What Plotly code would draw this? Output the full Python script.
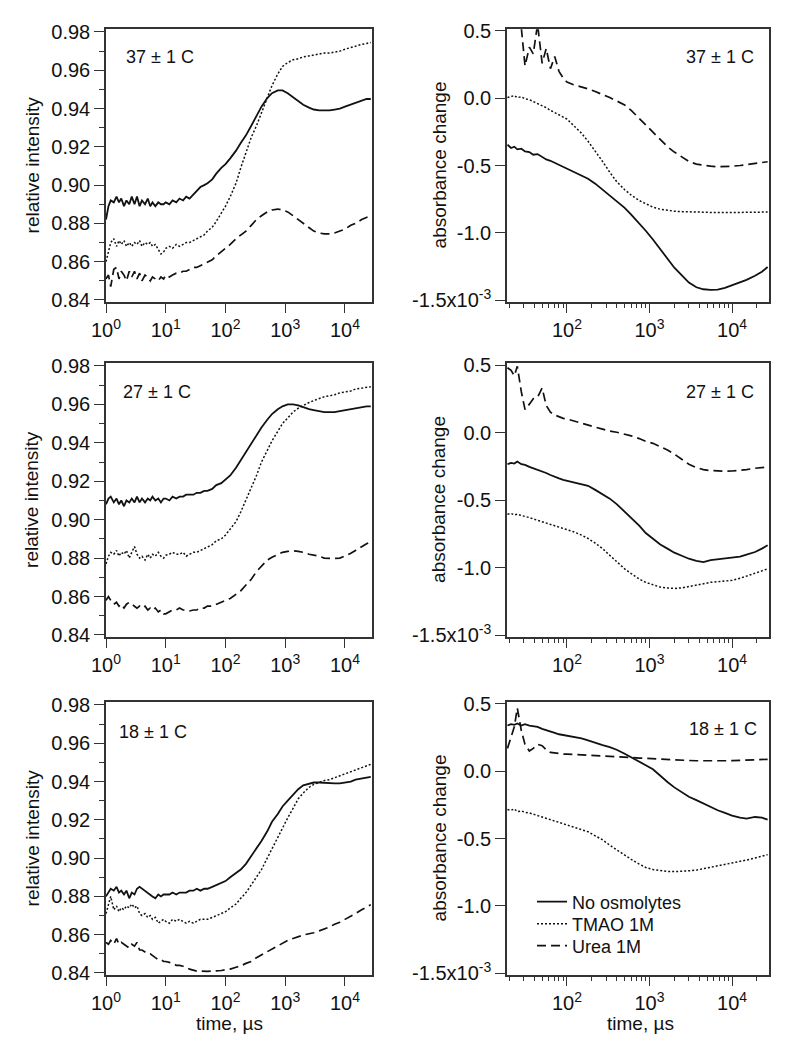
import plotly.graph_objects as go

# ---------------- data ----------------
T_FLUOR = [1.0, 1.1, 1.2, 1.35,
           1.5, 1.65, 1.8, 2.0,
           2.2, 2.45, 2.7, 3.0,
           3.3, 3.65, 4.0, 4.5,
           5.0, 5.5, 6.0, 6.7,
           7.5, 8.3, 9.2, 10,
           11.5, 13, 15, 17,
           19.5, 22, 25, 29,
           33, 38, 44, 50,
           60, 70, 85, 100,
           120, 150, 180, 220,
           270, 330, 400, 500,
           600, 750, 900, 1100,
           1350, 1650, 2000, 2500,
           3000, 3700, 4500, 5500,
           6700, 8200, 10000, 12500,
           15000, 19000, 23000, 27000]

F37_NONE = [0.882, 0.889, 0.892, 0.891,
            0.894, 0.891, 0.893, 0.889,
            0.892, 0.890, 0.894, 0.890,
            0.894, 0.889, 0.892, 0.890,
            0.893, 0.889, 0.891, 0.889,
            0.891, 0.890, 0.890, 0.891,
            0.890, 0.892, 0.891, 0.893,
            0.892, 0.894, 0.893, 0.895,
            0.897, 0.899, 0.900, 0.901,
            0.903, 0.906, 0.909, 0.911,
            0.914, 0.918, 0.922, 0.926,
            0.931, 0.936, 0.941, 0.9455,
            0.948, 0.9495, 0.9495, 0.948,
            0.946, 0.944, 0.942, 0.9405,
            0.9395, 0.939, 0.939, 0.939,
            0.9395, 0.940, 0.941, 0.942,
            0.943, 0.944, 0.945, 0.945]
F37_TMAO = [0.860, 0.866, 0.870, 0.872,
            0.868, 0.871, 0.869, 0.871,
            0.868, 0.870, 0.868, 0.870,
            0.869, 0.871, 0.868, 0.870,
            0.869, 0.870, 0.868, 0.869,
            0.866, 0.864, 0.865, 0.867,
            0.868, 0.867, 0.869, 0.868,
            0.869, 0.870, 0.870, 0.871,
            0.872, 0.873, 0.874, 0.876,
            0.878, 0.881, 0.885, 0.889,
            0.894, 0.901, 0.909, 0.917,
            0.925, 0.931, 0.938, 0.946,
            0.952, 0.958, 0.962, 0.964,
            0.9655, 0.966, 0.967, 0.9675,
            0.968, 0.9685, 0.969, 0.969,
            0.9695, 0.970, 0.971, 0.972,
            0.9725, 0.9735, 0.974, 0.9745]
F37_UREA = [0.851, 0.853, 0.847, 0.856,
            0.857, 0.851, 0.855, 0.853,
            0.850, 0.855, 0.852, 0.855,
            0.851, 0.854, 0.850, 0.853,
            0.852, 0.850, 0.852, 0.851,
            0.850, 0.852, 0.851, 0.853,
            0.852, 0.853, 0.854, 0.854,
            0.855, 0.855, 0.856, 0.857,
            0.857, 0.858, 0.859, 0.860,
            0.861, 0.863, 0.865, 0.867,
            0.869, 0.872, 0.874, 0.876,
            0.879, 0.882, 0.884, 0.886,
            0.887, 0.8875, 0.887, 0.886,
            0.884, 0.882, 0.880, 0.878,
            0.876, 0.875, 0.8745, 0.8745,
            0.875, 0.876, 0.877, 0.879,
            0.880, 0.882, 0.883, 0.884]

F27_NONE = [0.908, 0.911, 0.912, 0.909,
            0.911, 0.908, 0.910, 0.907,
            0.910, 0.909, 0.911, 0.909,
            0.912, 0.909, 0.911, 0.909,
            0.911, 0.910, 0.912, 0.910,
            0.911, 0.909, 0.911, 0.911,
            0.910, 0.912, 0.911, 0.912,
            0.912, 0.913, 0.913, 0.913,
            0.914, 0.914, 0.915, 0.915,
            0.916, 0.918, 0.919, 0.921,
            0.923, 0.927, 0.931, 0.935,
            0.940, 0.944, 0.948, 0.952,
            0.955, 0.9575, 0.959, 0.960,
            0.960, 0.9595, 0.9585, 0.9575,
            0.957, 0.9565, 0.956, 0.956,
            0.956, 0.9565, 0.957, 0.9575,
            0.958, 0.9585, 0.959, 0.959]
F27_TMAO = [0.877, 0.881, 0.883, 0.882,
            0.884, 0.881, 0.883, 0.882,
            0.884, 0.880, 0.883, 0.886,
            0.882, 0.880, 0.881, 0.879,
            0.882, 0.880, 0.882, 0.881,
            0.883, 0.881, 0.880, 0.8815,
            0.882, 0.883, 0.882, 0.882,
            0.883, 0.881, 0.882, 0.883,
            0.883, 0.884, 0.885, 0.886,
            0.887, 0.889, 0.890, 0.892,
            0.895, 0.899, 0.904, 0.910,
            0.917, 0.923, 0.930, 0.936,
            0.941, 0.946, 0.950, 0.953,
            0.956, 0.958, 0.9595, 0.961,
            0.962, 0.963, 0.964, 0.9645,
            0.965, 0.966, 0.9665, 0.967,
            0.968, 0.9685, 0.969, 0.9692]
F27_UREA = [0.858, 0.860, 0.858, 0.856,
            0.857, 0.855, 0.856, 0.854,
            0.856, 0.857, 0.856, 0.855,
            0.854, 0.855, 0.854, 0.855,
            0.853, 0.854, 0.853, 0.854,
            0.852, 0.853, 0.851, 0.851,
            0.852, 0.853, 0.853, 0.854,
            0.853, 0.853, 0.8525, 0.853,
            0.853, 0.854, 0.854, 0.855,
            0.855, 0.856, 0.857, 0.858,
            0.859, 0.861, 0.863, 0.866,
            0.869, 0.873, 0.876, 0.879,
            0.8805, 0.882, 0.883, 0.8835,
            0.8838, 0.8835, 0.883, 0.882,
            0.8815, 0.881, 0.880, 0.8798,
            0.8798, 0.880, 0.881, 0.8825,
            0.884, 0.886, 0.8875, 0.8885]

F18_NONE = [0.880, 0.882, 0.884, 0.883,
            0.885, 0.882, 0.883, 0.881,
            0.883, 0.879, 0.882, 0.881,
            0.884, 0.885, 0.884, 0.883,
            0.882, 0.881, 0.880, 0.879,
            0.881, 0.880, 0.881, 0.881,
            0.881, 0.882, 0.881, 0.882,
            0.882, 0.882, 0.883, 0.883,
            0.884, 0.883, 0.884, 0.884,
            0.885, 0.886, 0.887, 0.888,
            0.890, 0.892, 0.894, 0.897,
            0.901, 0.905, 0.909, 0.914,
            0.919, 0.923, 0.927, 0.930,
            0.933, 0.936, 0.938, 0.939,
            0.9395, 0.9395, 0.9393, 0.939,
            0.939, 0.939, 0.9395, 0.940,
            0.941, 0.9415, 0.942, 0.9425]
F18_TMAO = [0.871, 0.876, 0.880, 0.873,
            0.875, 0.872, 0.874, 0.873,
            0.875, 0.874, 0.876, 0.874,
            0.875, 0.871, 0.870, 0.871,
            0.869, 0.870, 0.868, 0.869,
            0.866, 0.867, 0.868, 0.867,
            0.866, 0.868, 0.867, 0.868,
            0.867, 0.866, 0.867, 0.866,
            0.867, 0.868, 0.868, 0.868,
            0.869, 0.870, 0.871, 0.872,
            0.874, 0.876, 0.879, 0.882,
            0.886, 0.890, 0.894, 0.900,
            0.905, 0.911, 0.916, 0.921,
            0.926, 0.931, 0.934, 0.937,
            0.9385, 0.9395, 0.9405, 0.941,
            0.942, 0.943, 0.944, 0.945,
            0.946, 0.947, 0.948, 0.949]
F18_UREA = [0.856, 0.855, 0.857, 0.855,
            0.858, 0.855, 0.856, 0.855,
            0.854, 0.853, 0.855, 0.854,
            0.856, 0.852, 0.852, 0.851,
            0.850, 0.850, 0.849, 0.848,
            0.847, 0.847, 0.846, 0.846,
            0.8455, 0.845, 0.844, 0.844,
            0.8435, 0.843, 0.842, 0.8415,
            0.841, 0.841, 0.8408, 0.8408,
            0.841, 0.841, 0.8413, 0.8417,
            0.842, 0.843, 0.8437, 0.845,
            0.846, 0.848, 0.8495, 0.851,
            0.8525, 0.854, 0.8555, 0.857,
            0.858, 0.859, 0.8598, 0.8605,
            0.861, 0.862, 0.863, 0.864,
            0.8655, 0.8665, 0.868, 0.8695,
            0.871, 0.873, 0.8745, 0.8757]

T_ABS = [19, 21, 23, 25,
         28, 31, 35, 39,
         44, 50, 56, 63,
         71, 80, 90, 100,
         120, 150, 180, 220,
         270, 330, 400, 500,
         600, 750, 900, 1100,
         1350, 1650, 2000, 2500,
         3000, 3700, 4500, 5500,
         6700, 8200, 10000, 12500,
         15000, 19000, 23000, 27000]

# absorbance change, in units of 1e-3
A37_NONE = [-0.345, -0.37, -0.36, -0.38,
            -0.375, -0.395, -0.40, -0.42,
            -0.415, -0.435, -0.455, -0.465,
            -0.48, -0.495, -0.51, -0.521,
            -0.545, -0.575, -0.598, -0.635,
            -0.68, -0.725, -0.77, -0.815,
            -0.865, -0.93, -0.985, -1.05,
            -1.12, -1.195, -1.26, -1.32,
            -1.37, -1.405, -1.42, -1.425,
            -1.422, -1.41, -1.39, -1.37,
            -1.35, -1.32, -1.29, -1.255]
A37_TMAO = [0.005, 0.01, 0.02, 0.005,
            0.01, -0.005, -0.01, -0.025,
            -0.04, -0.055, -0.07, -0.09,
            -0.105, -0.12, -0.14, -0.155,
            -0.2, -0.26, -0.32, -0.39,
            -0.47, -0.55, -0.62, -0.68,
            -0.72, -0.76, -0.785, -0.81,
            -0.825, -0.835, -0.84, -0.843,
            -0.845, -0.847, -0.848, -0.849,
            -0.85, -0.85, -0.85, -0.85,
            -0.849, -0.848, -0.847, -0.846]
A37_UREA = [None, None, None, None,
            0.52, 0.24, 0.38, 0.33,
            0.55, 0.26, 0.37, 0.22,
            0.31, 0.2, 0.15, 0.12,
            0.1, 0.085, 0.07, 0.05,
            0.03, 0.005, -0.02, -0.05,
            -0.09, -0.15, -0.2, -0.25,
            -0.31, -0.36, -0.4, -0.44,
            -0.47, -0.49, -0.5, -0.505,
            -0.51, -0.51, -0.505, -0.5,
            -0.495, -0.485, -0.478, -0.472]

A27_NONE = [-0.235, -0.225, -0.23, -0.215,
            -0.235, -0.24, -0.255, -0.265,
            -0.275, -0.29, -0.3, -0.315,
            -0.33, -0.34, -0.35, -0.357,
            -0.37, -0.38, -0.395, -0.425,
            -0.455, -0.49, -0.53, -0.585,
            -0.635, -0.69, -0.745, -0.79,
            -0.83, -0.86, -0.89, -0.915,
            -0.935, -0.95, -0.96, -0.945,
            -0.94, -0.935, -0.93, -0.92,
            -0.905, -0.885, -0.86, -0.835]
A27_TMAO = [-0.605, -0.6, -0.61, -0.605,
            -0.615, -0.62, -0.63, -0.64,
            -0.65, -0.66, -0.67, -0.68,
            -0.69, -0.7, -0.71, -0.717,
            -0.735, -0.76, -0.785, -0.82,
            -0.86, -0.91, -0.955, -1.01,
            -1.045, -1.085, -1.11, -1.13,
            -1.145, -1.152, -1.155, -1.15,
            -1.14, -1.13, -1.12, -1.11,
            -1.105, -1.1, -1.095, -1.08,
            -1.065, -1.045, -1.025, -1.01]
A27_UREA = [0.48, 0.46, 0.42, 0.49,
            0.3, 0.17, 0.21, 0.25,
            0.26, 0.33, 0.2, 0.15,
            0.13, 0.115, 0.105, 0.1,
            0.085, 0.07, 0.055, 0.04,
            0.025, 0.01, 0.002, -0.01,
            -0.025, -0.045, -0.065, -0.08,
            -0.105, -0.13, -0.16, -0.2,
            -0.235, -0.26, -0.275, -0.282,
            -0.285, -0.287, -0.285, -0.28,
            -0.275, -0.265, -0.26, -0.255]

A18_NONE = [0.34, 0.35, 0.345, 0.355,
            0.34, 0.35, 0.34, 0.335,
            0.33, 0.315, 0.305, 0.29,
            0.285, 0.275, 0.27, 0.263,
            0.255, 0.245, 0.23, 0.21,
            0.195, 0.18, 0.16, 0.13,
            0.105, 0.075, 0.045, 0.015,
            -0.035, -0.08, -0.12, -0.16,
            -0.19, -0.215, -0.24, -0.27,
            -0.29, -0.31, -0.33, -0.345,
            -0.352, -0.34, -0.345, -0.36]
A18_TMAO = [-0.285, -0.29, -0.28, -0.3,
            -0.295, -0.305, -0.31, -0.32,
            -0.33, -0.34, -0.35, -0.36,
            -0.37, -0.38, -0.39, -0.396,
            -0.41, -0.43, -0.45, -0.48,
            -0.51, -0.55, -0.585, -0.625,
            -0.655, -0.69, -0.715, -0.73,
            -0.74, -0.745, -0.746, -0.745,
            -0.74, -0.735, -0.725, -0.715,
            -0.705, -0.695, -0.683, -0.672,
            -0.66, -0.645, -0.632, -0.62]
A18_UREA = [0.17, 0.25, 0.33, 0.47,
            0.3, 0.2, 0.15, 0.17,
            0.2, 0.19, 0.16, 0.14,
            0.135, 0.13, 0.128, 0.127,
            0.125, 0.12, 0.118, 0.116,
            0.114, 0.112, 0.11, 0.106,
            0.102, 0.098, 0.095, 0.092,
            0.089, 0.087, 0.085, 0.082,
            0.08, 0.078, 0.077, 0.077,
            0.077, 0.078, 0.079, 0.081,
            0.084, 0.086, 0.088, 0.089]

SERIES_NAMES = ["No osmolytes", "TMAO 1M", "Urea 1M"]
TEMPS = ["37 ± 1 C", "27 ± 1 C", "18 ± 1 C"]

FL_TICKVALS = [1, 10, 100, 1000, 10000]
FL_TICKTEXT = ["10<sup>0</sup>", "10<sup>1</sup>", "10<sup>2</sup>", "10<sup>3</sup>", "10<sup>4</sup>"]
AB_TICKVALS = [100, 1000, 10000]
AB_TICKTEXT = ["10<sup>2</sup>", "10<sup>3</sup>", "10<sup>4</sup>"]
AB_MINOR = [20, 30, 40, 50, 60, 70, 80, 90,
            200, 300, 400, 500, 600, 700, 800, 900,
            2000, 3000, 4000, 5000, 6000, 7000, 8000, 9000, 20000]
FL_YTICKS = [0.84, 0.86, 0.88, 0.90, 0.92, 0.94, 0.96, 0.98]
FL_YTEXT = ["0.84", "0.86", "0.88", "0.90", "0.92", "0.94", "0.96", "0.98"]
AB_YTICKS = [0.5, 0.0, -0.5, -1.0, -1.5]
AB_YTEXT = ["0.5", "0.0", "-0.5", "-1.0", "-1.5x10<sup>-3</sup>"]

# ---------------- figure ----------------
# the page body adds an 8 px margin; layout positions below are page pixels
OFF = 8
W, H = 781, 1034
FONT = "Liberation Sans, Arial, sans-serif"
INK = "#111111"
AXC = "#333333"
FS = 19
FS_TICK = 20

STYLES = [dict(color=INK, width=1.8, dash="solid"),
          dict(color=INK, width=1.5, dash="2px,2px"),
          dict(color=INK, width=1.7, dash="9px,5px")]

fluor = [(F37_NONE, F37_TMAO, F37_UREA), (F27_NONE, F27_TMAO, F27_UREA), (F18_NONE, F18_TMAO, F18_UREA)]
absb = [(A37_NONE, A37_TMAO, A37_UREA), (A27_NONE, A27_TMAO, A27_UREA), (A18_NONE, A18_TMAO, A18_UREA)]
LEGENDS = ["legend", "legend2", "legend3"]
LEGEND_ROWS = [902, 924, 946]


def px_x(p):
    return (p - OFF) / W


def px_y(p):
    return 1 - (p - OFF) / H


ROWS = [(29.3, 301.5), (363.3, 636.5), (702.3, 974.5)]
LEFT_X = (106, 372)
RIGHT_X = (507, 769)

fig = go.Figure()
layout_axes = {}
annotations = []

for r in range(3):
    li = 2 * r + 1
    ri = 2 * r + 2
    for k in range(3):
        fig.add_trace(go.Scatter(
            x=T_FLUOR, y=fluor[r][k], mode="lines", line=STYLES[k],
            name=SERIES_NAMES[k], showlegend=False,
            xaxis="x" if li == 1 else f"x{li}", yaxis="y" if li == 1 else f"y{li}"))
    for k in range(3):
        fig.add_trace(go.Scatter(
            x=T_ABS, y=absb[r][k], mode="lines", line=STYLES[k],
            name=SERIES_NAMES[k], showlegend=(r == 2), legend=LEGENDS[k], connectgaps=False,
            xaxis=f"x{ri}", yaxis=f"y{ri}"))

    ydom = [px_y(ROWS[r][1]), px_y(ROWS[r][0])]
    common_x = dict(type="log", showgrid=False, zeroline=False, showline=True, automargin=False,
                    linecolor=AXC, linewidth=1.5, mirror=True, ticks="outside",
                    ticklen=10, tickwidth=1.3, tickcolor=AXC,
                    tickfont=dict(family=FONT, size=FS_TICK, color=INK), tickmode="array")
    common_y = dict(showgrid=False, zeroline=False, showline=True, automargin=False,
                    linecolor=AXC, linewidth=1.5, mirror=True, ticks="outside", ticklen=10,
                    tickwidth=1.3, tickcolor=AXC,
                    tickfont=dict(family=FONT, size=FS_TICK, color=INK))
    lx = "xaxis" if li == 1 else f"xaxis{li}"
    ly = "yaxis" if li == 1 else f"yaxis{li}"
    layout_axes[lx] = dict(common_x, domain=[px_x(LEFT_X[0]), px_x(LEFT_X[1])],
                           range=[0, 4.452], tickvals=FL_TICKVALS, ticktext=FL_TICKTEXT,
                           anchor="y" if li == 1 else f"y{li}")
    layout_axes[ly] = dict(common_y, domain=ydom, range=[0.8392, 0.9814],
                           tickmode="array", tickvals=FL_YTICKS, ticktext=FL_YTEXT,
                           minor=dict(tickmode="linear", tick0=0.84, dtick=0.01, ticks="outside",
                                      ticklen=5, tickwidth=1.2, tickcolor=AXC, showgrid=False),
                           anchor="x" if li == 1 else f"x{li}")
    layout_axes[f"xaxis{ri}"] = dict(common_x, domain=[px_x(RIGHT_X[0]), px_x(RIGHT_X[1])],
                                     range=[1.273, 4.448], tickvals=AB_TICKVALS, ticktext=AB_TICKTEXT,
                                     minor=dict(tickmode="array", tickvals=AB_MINOR, ticks="outside",
                                                ticklen=5, tickwidth=1.2, tickcolor=AXC, showgrid=False),
                                     anchor=f"y{ri}")
    layout_axes[f"yaxis{ri}"] = dict(common_y, domain=ydom, range=[-1.511, 0.5126],
                                     tickmode="array", tickvals=AB_YTICKS, ticktext=AB_YTEXT,
                                     anchor=f"x{ri}")

    ymid = px_y((ROWS[r][0] + ROWS[r][1]) / 2)
    annotations.append(dict(text="relative intensity", x=px_x(32), y=ymid, xref="paper", yref="paper",
                            textangle=-90, showarrow=False, xanchor="center", yanchor="middle",
                            font=dict(family=FONT, size=FS, color=INK)))
    annotations.append(dict(text="absorbance change", x=px_x(439), y=ymid, xref="paper", yref="paper",
                            textangle=-90, showarrow=False, xanchor="center", yanchor="middle",
                            font=dict(family=FONT, size=FS, color=INK)))
    annotations.append(dict(text=TEMPS[r], x=px_x([124, 121, 117][r]), y=px_y([57, 392, 732][r]),
                            xref="paper", yref="paper", showarrow=False, xanchor="left",
                            yanchor="middle", font=dict(family=FONT, size=18, color=INK)))
    annotations.append(dict(text=TEMPS[r], x=px_x([756, 756, 759][r]), y=px_y([57, 392, 729][r]),
                            xref="paper", yref="paper", showarrow=False, xanchor="right",
                            yanchor="middle", font=dict(family=FONT, size=18, color=INK)))

annotations.append(dict(text="time, µs", x=px_x(229), y=px_y(1023), xref="paper", yref="paper",
                        showarrow=False, xanchor="center", yanchor="middle",
                        font=dict(family=FONT, size=FS, color=INK)))
annotations.append(dict(text="time, µs", x=px_x(640), y=px_y(1023), xref="paper", yref="paper",
                        showarrow=False, xanchor="center", yanchor="middle",
                        font=dict(family=FONT, size=FS, color=INK)))

legend_layout = {}
for k in range(3):
    legend_layout[LEGENDS[k]] = dict(x=px_x(532), y=px_y(LEGEND_ROWS[k]), xanchor="left",
                                     yanchor="middle", bgcolor="rgba(0,0,0,0)", borderwidth=0,
                                     tracegroupgap=0, itemwidth=30,
                                     font=dict(family=FONT, size=18, color=INK))

fig.update_layout(
    width=W, height=H,
    autosize=False,
    margin=dict(l=0, r=0, t=0, b=0, pad=0, autoexpand=False),
    paper_bgcolor="white", plot_bgcolor="white",
    font=dict(family=FONT, size=FS, color=INK),
    showlegend=True,
    annotations=annotations,
    **legend_layout,
    **layout_axes,
)

fig.write_html("out.html")
